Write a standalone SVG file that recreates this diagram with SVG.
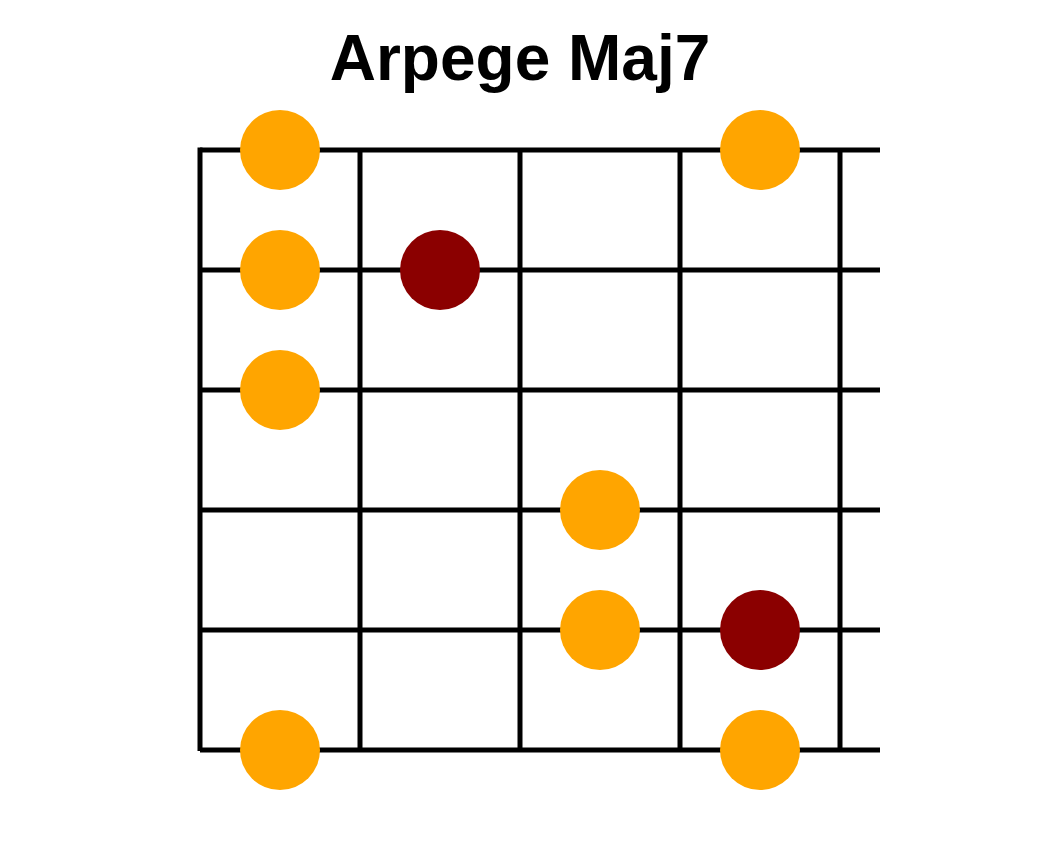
<svg xmlns="http://www.w3.org/2000/svg" width="1040" height="850" viewBox="0 0 1040 850">
<style>
.title{font-family:"Liberation Sans",Arial,sans-serif;font-weight:bold;font-size:64px;fill:#000}
.str{stroke:#000;stroke-width:5;fill:none}
.note{fill:#FFA500}
.root{fill:#8B0000}
</style>
<rect width="1040" height="850" fill="#fff"/>
<text class="title" x="520" y="80" text-anchor="middle">Arpege Maj7</text>
<g id="grid">
<line class="str" x1="200" y1="150" x2="880" y2="150"/>
<line class="str" x1="200" y1="270" x2="880" y2="270"/>
<line class="str" x1="200" y1="390" x2="880" y2="390"/>
<line class="str" x1="200" y1="510" x2="880" y2="510"/>
<line class="str" x1="200" y1="630" x2="880" y2="630"/>
<line class="str" x1="200" y1="750" x2="880" y2="750"/>
<line class="str" x1="200" y1="147.5" x2="200" y2="751"/>
<line class="str" x1="360" y1="150" x2="360" y2="750"/>
<line class="str" x1="520" y1="150" x2="520" y2="750"/>
<line class="str" x1="680" y1="150" x2="680" y2="750"/>
<line class="str" x1="840" y1="150" x2="840" y2="750"/>
</g>
<g id="n1"><circle class="note" cx="280" cy="150" r="40"/></g>
<g id="n2"><circle class="note" cx="760" cy="150" r="40"/></g>
<g id="n3"><circle class="note" cx="280" cy="270" r="40"/></g>
<g id="n4"><circle class="root" cx="440" cy="270" r="40"/></g>
<g id="n5"><circle class="note" cx="280" cy="390" r="40"/></g>
<g id="n6"><circle class="note" cx="600" cy="510" r="40"/></g>
<g id="n7"><circle class="note" cx="600" cy="630" r="40"/></g>
<g id="n8"><circle class="root" cx="760" cy="630" r="40"/></g>
<g id="n9"><circle class="note" cx="280" cy="750" r="40"/></g>
<g id="n10"><circle class="note" cx="760" cy="750" r="40"/></g>
</svg>
